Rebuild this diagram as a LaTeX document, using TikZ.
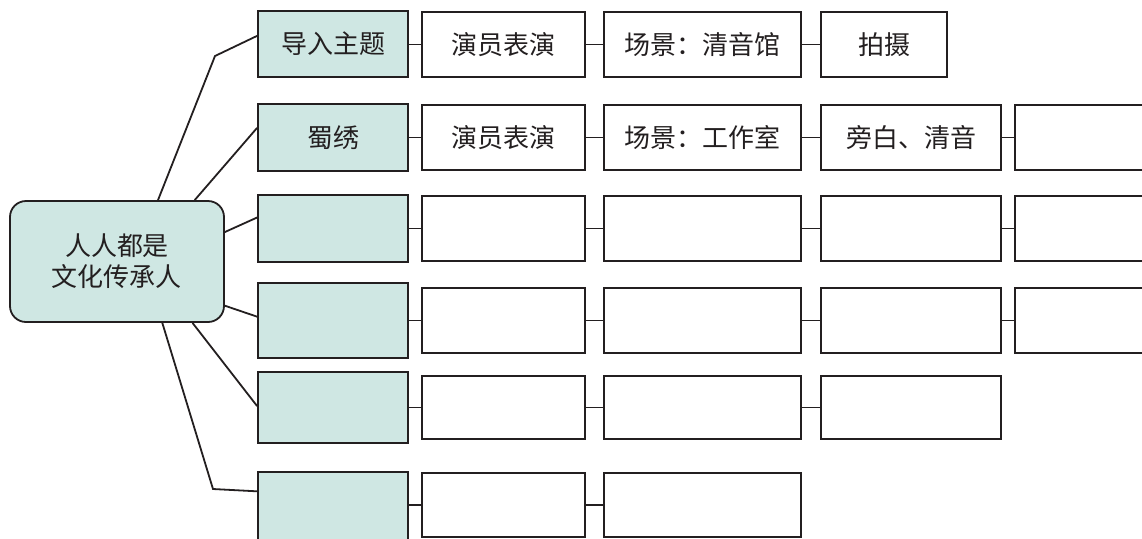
\documentclass[tikz,border=0pt]{standalone}
\usepackage{fontspec}
\setmainfont{Noto Sans CJK SC}
\usetikzlibrary{positioning,calc}
\definecolor{topicfill}{RGB}{207,231,227}
\definecolor{ink}{RGB}{35,31,32}
\tikzset{
  box/.style={draw=ink,line width=0.9pt,inner sep=0pt,text=ink,
    font=\fontsize{13pt}{15.5pt}\selectfont},
  topic/.style={box,fill=topicfill,minimum width=75pt},
  cell/.style={box,fill=white},
  link/.style={draw=ink,line width=0.9pt}
}

\begin{document}
\begin{tikzpicture}[x=0.5pt,y=-0.5pt]
\useasboundingbox (0,0) rectangle (1142,538);
% centre topic
\node[topic,rounded corners=8pt,minimum width=107pt,minimum height=60.5pt,align=center] (root) at (117,261.5) {人人都是\\文化传承人};
% topic column: y centre / height in pt / label
\foreach \yc/\h/\txt [count=\i] in {44/33/导入主题,137.5/33.5/蜀绣,228.5/33.5/{},320.5/37.5/{},407.5/35.5/{},510/38/{}}
  \node[topic,minimum height=\h pt,alias=c\i-0] (t\i) at (333,\yc) {\txt};
% cells of each row: x centre / width in pt / label
\foreach \yc/\h/\cells [count=\i] in {
44.5/32.5/{503.5/81.5/演员表演,702.5/98.5/场景：清音馆,884/63/拍摄},
137.5/32.5/{503.5/81.5/演员表演,702.5/98.5/场景：工作室,911/90/旁白、清音,1087.5/72.5/{}},
228.5/32.5/{503.5/81.5/{},702.5/98.5/{},911/90/{},1087.5/72.5/{}},
320.5/32.5/{503.5/81.5/{},702.5/98.5/{},911/90/{},1087.5/72.5/{}},
407.5/31.5/{503.5/81.5/{},702.5/98.5/{},911/90/{}},
505/32/{503.5/81.5/{},702.5/98.5/{}}}{
\foreach \xc/\w/\txt [count=\j] in \cells {
\pgfmathtruncatemacro\jp{\j-1}
\node[cell,minimum width=\w pt,minimum height=\h pt] (c\i-\j) at (\xc,\yc) {\txt};
\draw[link] (c\i-\jp.east |- c\i-\j.west) -- (c\i-\j.west);
}}
% branches from the centre topic
\coordinate (bend1) at (215,56);
\coordinate (bend6) at (213,489);
\draw[link] ($(root.north west)!0.69!(root.north east)$) -- (bend1) -- ($(t1.north west)!0.38!(t1.south west)$);
\draw[link] ($(root.north west)!0.86!(root.north east)$) -- ($(t2.north west)!0.36!(t2.south west)$);
\draw[link] ($(root.north east)!0.26!(root.south east)$) -- ($(t3.north west)!0.34!(t3.south west)$);
\draw[link] ($(root.north east)!0.86!(root.south east)$) -- ($(t4.north west)!0.45!(t4.south west)$);
\draw[link] ($(root.south west)!0.85!(root.south east)$) -- ($(t5.north west)!0.48!(t5.south west)$);
\draw[link] ($(root.south west)!0.71!(root.south east)$) -- (bend6) -- ($(t6.north west)!0.26!(t6.south west)$);
\end{tikzpicture}
\end{document}
